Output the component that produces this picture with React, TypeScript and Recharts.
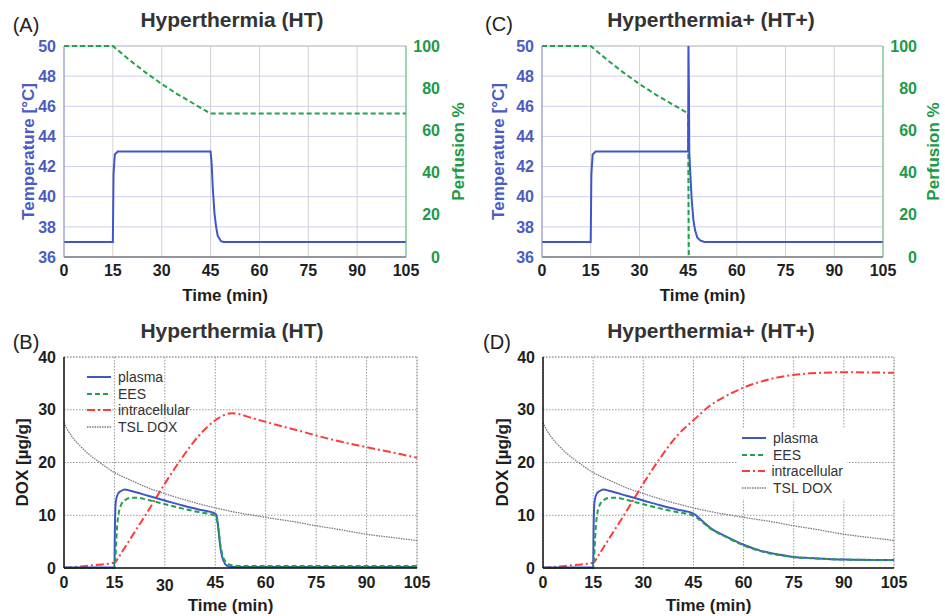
import React from "react";
import {
  LineChart,
  Line,
  XAxis,
  YAxis,
  CartesianGrid,
  ReferenceLine,
  Legend,
} from "recharts";

// ticks
const timeTicks = [0, 15, 30, 45, 60, 75, 90, 105];
const tempTicks = [36, 38, 40, 42, 44, 46, 48, 50];
const perfusionTicks = [0, 20, 40, 60, 80, 100];
const doxTicks = [0, 10, 20, 30, 40];

// (A) hyperthermia: temperature and perfusion
const tempTimeHT = [0, 15, 15.2, 15.6, 16.5, 45, 45.3, 45.7, 46.2, 46.7, 47.2, 48.2, 49, 105];
const tempHT = [37, 37, 41.5, 42.8, 43, 43, 42.3, 40.5, 38.9, 38, 37.4, 37.05, 37, 37];
const perfTimeHT = [0, 15, 20, 25, 30, 35, 40, 45, 105];
const perfHT = [100, 100, 93.5, 87.5, 82, 77, 72.5, 68, 68];

// (C) hyperthermia+: temperature and perfusion
const tempTimeHTp = [0, 15, 15.2, 15.6, 16.5, 45, 45.1, 45.25, 45.35, 45.6, 46.1, 46.6, 47.1, 47.8, 48.7, 50, 105];
const tempHTp = [37, 37, 41.5, 42.8, 43, 43, 50, 47, 43, 41.8, 39.8, 38.5, 37.8, 37.3, 37.1, 37, 37];
const perfTimeHTp = [0, 15, 20, 25, 30, 35, 40, 45, 45.2];
const perfHTp = [100, 100, 93.5, 87.5, 82, 77, 72.5, 68, 0];

// (B) hyperthermia: DOX concentrations
const plasmaTimeHT = [0, 15, 15.15, 15.4, 16, 17, 18, 20, 25, 30, 35, 40, 45, 45.5, 46, 46.5, 47, 48, 49, 50, 105];
const plasmaHT = [0.1, 0.1, 8, 12.5, 14, 14.6, 14.9, 14.6, 13.7, 12.8, 11.9, 11.1, 10.3, 9.5, 7, 4, 2.2, 0.7, 0.3, 0.2, 0.2];
const eesTimeHT = [0, 15, 15.3, 15.7, 16.3, 17, 18, 20, 22, 25, 30, 35, 40, 45, 45.5, 46, 46.5, 47, 48, 50, 52, 105];
const eesHT = [0, 0, 2, 7, 10.5, 12, 12.8, 13.3, 13.3, 12.9, 12.1, 11.3, 10.6, 9.9, 9, 7, 4.5, 2.8, 1.2, 0.5, 0.4, 0.4];
const intraTimeHT = [0, 5, 10, 15, 17, 20, 25, 30, 35, 40, 45, 48, 50, 52, 55, 60, 70, 80, 90, 100, 105];
const intraHT = [0, 0.3, 0.6, 1, 2.8, 5.8, 10.8, 16, 20.8, 25, 28, 29.1, 29.35, 29.2, 28.6, 27.7, 26, 24.3, 22.9, 21.6, 20.9];
const tslTime = [0, 1, 2.5, 5, 7.5, 10, 15, 20, 25, 30, 40, 45, 50, 60, 70, 75, 80, 90, 100, 105];
const tslDox = [27.6, 26.3, 24.8, 23, 21.5, 20.3, 18.1, 16.6, 15.2, 14.1, 12.2, 11.4, 10.7, 9.6, 8.6, 8, 7.5, 6.4, 5.6, 5.2];

// (D) hyperthermia+: DOX concentrations
const plasmaTimeHTp = [0, 15, 15.15, 15.4, 16, 17, 18, 20, 25, 30, 35, 40, 45, 47.5, 50, 55, 60, 65, 70, 75, 80, 90, 105];
const plasmaHTp = [0.1, 0.1, 8, 12.5, 14, 14.6, 14.9, 14.6, 13.7, 12.8, 11.9, 11.1, 10.3, 9, 7.6, 5.9, 4.4, 3.3, 2.6, 2.1, 1.9, 1.6, 1.5];
const eesTimeHTp = [0, 15, 15.3, 15.7, 16.3, 17, 18, 20, 22, 25, 30, 35, 40, 45, 47.5, 50, 55, 60, 65, 70, 75, 80, 90, 105];
const eesHTp = [0, 0, 2, 7, 10.5, 12, 12.8, 13.3, 13.3, 12.9, 12.1, 11.3, 10.6, 9.9, 8.8, 7.5, 5.8, 4.3, 3.2, 2.5, 2.05, 1.85, 1.6, 1.5];
const intraTimeHTp = [0, 5, 10, 15, 17, 20, 25, 30, 35, 40, 45, 50, 55, 60, 65, 70, 75, 80, 90, 100, 105];
const intraHTp = [0, 0.3, 0.6, 1, 2.8, 5.8, 10.8, 16, 20.8, 25, 28, 30.8, 32.7, 34.2, 35.3, 36.1, 36.6, 36.9, 37.1, 37.05, 37];

const BLUE = "#3f56c8";
const BLUE_TEXT = "#4a5cc2";
const GREEN = "#22a04b";
const GREEN_TEXT = "#1c9a47";
const RED = "#ff3a3a";
const GRAY = "#7a7a7a";
const DARK = "#1e1e1e";
const TICK_SIZE = 16;

const zip = (t: number[], v: number[]) => t.map((time, i) => ({ time, value: v[i] }));

const doxSeries = [
  { name: "plasma", color: BLUE, dash: undefined as string | undefined, width: 2 },
  { name: "EES", color: GREEN, dash: "5 3", width: 2 },
  { name: "intracellular", color: RED, dash: "8 3 2 3", width: 2 },
  { name: "TSL DOX", color: GRAY, dash: "1.5 1", width: 1.3 },
];

const boldTick = (fill: string) => ({ fill, fontSize: TICK_SIZE, fontWeight: "bold" as const });

// right axis labels are right-aligned in the original
const perfusionTick = (p: any) => (
  <text x={p.x + 26} y={p.y} dy={5.5} textAnchor="end" fill={GREEN_TEXT} fontSize={TICK_SIZE} fontWeight="bold">
    {p.payload.value}
  </text>
);

function DoxLegend({ boxed }: { boxed: boolean }) {
  return (
    <div
      style={{
        background: boxed ? "#fff" : "transparent",
        padding: boxed ? "2px 4px 3px 4px" : 0,
        width: boxed ? 102 : "auto",
      }}
    >
      {doxSeries.map((s) => (
        <div key={s.name} style={{ display: "flex", alignItems: "center", height: 16.6 }}>
          <svg width={26} height={10}>
            <line x1={1} x2={25} y1={5} y2={5} stroke={s.color} strokeWidth={s.width} strokeDasharray={s.dash} />
          </svg>
          <span style={{ marginLeft: 6, fontSize: 14, color: "#333", lineHeight: "16px" }}>{s.name}</span>
        </div>
      ))}
    </div>
  );
}

function Caption({ text, cx, cy, size, bold }: { text: string; cx: number; cy: number; size: number; bold?: boolean }) {
  return (
    <div
      style={{
        position: "absolute",
        left: cx - 200,
        top: cy - size * 0.6,
        width: 400,
        textAlign: "center",
        fontSize: size,
        lineHeight: `${size * 1.2}px`,
        fontWeight: bold ? "bold" : "normal",
        color: bold ? "#333" : "#222",
        whiteSpace: "nowrap",
      }}
    >
      {text}
    </div>
  );
}

type TempProps = {
  left: number;
  width: number;
  leftW: number;
  rightW: number;
  temp: { time: number; value: number }[];
  perf: { time: number; value: number }[];
};

function TempPanel({ left, width, leftW, rightW, temp, perf }: TempProps) {
  return (
    <div style={{ position: "absolute", left, top: 0, width, height: 305 }}>
      <LineChart width={width} height={305} margin={{ top: 46, right: 0, bottom: 0, left: 0 }}>
        <CartesianGrid yAxisId="temp" horizontal={false} stroke="#d2d2d2" />
        <CartesianGrid yAxisId="temp" vertical={false} stroke="#cdd0ec" />
        <XAxis
          dataKey="time"
          type="number"
          domain={[0, 105]}
          ticks={timeTicks}
          interval={0}
          height={48}
          tickLine={false}
          axisLine={{ stroke: "#444" }}
          tick={boldTick(DARK)}
          label={{ value: "Time (min)", position: "insideBottom", offset: 4, dx: -10, fill: DARK, fontSize: 17, fontWeight: "bold" }}
        />
        <YAxis
          yAxisId="temp"
          domain={[36, 50]}
          ticks={tempTicks}
          interval={0}
          width={leftW}
          tickLine={false}
          axisLine={{ stroke: "#8c93cc" }}
          tick={boldTick(BLUE_TEXT)}
          label={{
            value: "Temperature [°C]",
            angle: -90,
            position: "insideLeft",
            offset: 28,
            fill: BLUE_TEXT,
            fontSize: 17,
            fontWeight: "bold",
            style: { textAnchor: "middle" },
          }}
        />
        <YAxis
          yAxisId="perf"
          orientation="right"
          domain={[0, 100]}
          ticks={perfusionTicks}
          interval={0}
          width={rightW}
          tickLine={false}
          axisLine={{ stroke: "#5cbf7a" }}
          tick={perfusionTick}
          label={{
            value: "Perfusion %",
            angle: -90,
            position: "insideRight",
            offset: 12,
            fill: GREEN_TEXT,
            fontSize: 17,
            fontWeight: "bold",
            style: { textAnchor: "middle" },
          }}
        />
        <ReferenceLine yAxisId="temp" y={50} stroke="#c4c4c4" />
        <Line
          yAxisId="perf"
          data={perf}
          dataKey="value"
          type="linear"
          stroke={GREEN}
          strokeWidth={2}
          strokeDasharray="5 3"
          dot={false}
          activeDot={false}
          isAnimationActive={false}
        />
        <Line
          yAxisId="temp"
          data={temp}
          dataKey="value"
          type="linear"
          stroke={BLUE}
          strokeWidth={2}
          dot={false}
          activeDot={false}
          isAnimationActive={false}
        />
      </LineChart>
    </div>
  );
}

type DoxProps = {
  left: number;
  width: number;
  leftW: number;
  right: number;
  labelOffset: number;
  plasma: { time: number; value: number }[];
  ees: { time: number; value: number }[];
  intra: { time: number; value: number }[];
  tsl: { time: number; value: number }[];
  legendPos: { left: number; top: number };
  boxed: boolean;
  shiftedTick?: number;
};

function DoxPanel({ left, width, leftW, right, labelOffset, plasma, ees, intra, tsl, legendPos, boxed, shiftedTick }: DoxProps) {
  const renderTick = (p: any) => (
    <text
      x={p.x}
      y={p.y + (p.payload.value === shiftedTick ? 3 : 0)}
      dy={12}
      textAnchor="middle"
      fill={DARK}
      fontSize={TICK_SIZE}
      fontWeight="bold"
    >
      {p.payload.value}
    </text>
  );
  return (
    <div style={{ position: "absolute", left, top: 305, width, height: 311 }}>
      <LineChart width={width} height={311} margin={{ top: 52, right, bottom: 0, left: 0 }}>
        <CartesianGrid stroke="#9a9a9a" strokeDasharray="1.5 1.5" />
        <XAxis
          dataKey="time"
          type="number"
          domain={[0, 105]}
          ticks={timeTicks}
          interval={0}
          height={48}
          tickLine={false}
          axisLine={{ stroke: "#111", strokeWidth: 1.5 }}
          tick={renderTick}
          label={{ value: "Time (min)", position: "insideBottom", offset: 5, dx: -10, fill: DARK, fontSize: 17, fontWeight: "bold" }}
        />
        <YAxis
          domain={[0, 40]}
          ticks={doxTicks}
          interval={0}
          width={leftW}
          tickLine={false}
          axisLine={{ stroke: "#111", strokeWidth: 1.5 }}
          tick={boldTick(DARK)}
          label={{
            value: "DOX [µg/g]",
            angle: -90,
            position: "insideLeft",
            offset: labelOffset,
            fill: DARK,
            fontSize: 17,
            fontWeight: "bold",
            style: { textAnchor: "middle" },
          }}
        />
        <ReferenceLine y={40} stroke="#9a9a9a" strokeDasharray="1.5 1.5" />
        <ReferenceLine x={105} stroke="#9a9a9a" strokeDasharray="1.5 1.5" />
        <Line data={tsl} dataKey="value" name="TSL DOX" type="monotoneX" stroke={GRAY} strokeWidth={1.3} strokeDasharray="1.5 1" dot={false} activeDot={false} isAnimationActive={false} />
        <Line data={intra} dataKey="value" name="intracellular" type="monotoneX" stroke={RED} strokeWidth={2} strokeDasharray="8 3 2 3" dot={false} activeDot={false} isAnimationActive={false} />
        <Line data={plasma} dataKey="value" name="plasma" type="monotoneX" stroke={BLUE} strokeWidth={2} dot={false} activeDot={false} isAnimationActive={false} />
        <Line data={ees} dataKey="value" name="EES" type="monotoneX" stroke={GREEN} strokeWidth={2} strokeDasharray="5 3" dot={false} activeDot={false} isAnimationActive={false} />
        <Legend
          layout="vertical"
          align="center"
          verticalAlign="middle"
          content={() => <DoxLegend boxed={boxed} />}
          wrapperStyle={{ position: "absolute", left: legendPos.left, top: legendPos.top, width: "auto", height: "auto" }}
        />
      </LineChart>
    </div>
  );
}

export default function App() {
  return (
    <div
      style={{
        position: "absolute",
        left: 0,
        top: 0,
        width: 945,
        height: 616,
        background: "#fff",
        fontFamily: "'Liberation Sans', Arial, sans-serif",
        overflow: "hidden",
      }}
    >
      <TempPanel left={0} width={470} leftW={64} rightW={64} temp={zip(tempTimeHT, tempHT)} perf={zip(perfTimeHT, perfHT)} />
      <TempPanel left={470} width={475} leftW={72} rightW={62} temp={zip(tempTimeHTp, tempHTp)} perf={zip(perfTimeHTp, perfHTp)} />
      <DoxPanel
        left={0}
        width={470}
        leftW={64}
        right={53}
        labelOffset={22}
        plasma={zip(plasmaTimeHT, plasmaHT)}
        ees={zip(eesTimeHT, eesHT)}
        intra={zip(intraTimeHT, intraHT)}
        tsl={zip(tslTime, tslDox)}
        legendPos={{ left: 86, top: 64 }}
        boxed={false}
        shiftedTick={30}
      />
      <DoxPanel
        left={470}
        width={475}
        leftW={73}
        right={51}
        labelOffset={32}
        plasma={zip(plasmaTimeHTp, plasmaHTp)}
        ees={zip(eesTimeHTp, eesHTp)}
        intra={zip(intraTimeHTp, intraHTp)}
        tsl={zip(tslTime, tslDox)}
        legendPos={{ left: 267, top: 123 }}
        boxed={true}
      />
      <Caption text="Hyperthermia (HT)" cx={232} cy={20} size={21} bold />
      <Caption text="Hyperthermia+ (HT+)" cx={711} cy={20} size={21} bold />
      <Caption text="Hyperthermia (HT)" cx={232} cy={331} size={21} bold />
      <Caption text="Hyperthermia+ (HT+)" cx={711} cy={331} size={21} bold />
      <Caption text="(A)" cx={26} cy={25} size={20} />
      <Caption text="(C)" cx={499} cy={24} size={20} />
      <Caption text="(B)" cx={26} cy={342} size={20} />
      <Caption text="(D)" cx={497} cy={342} size={20} />
    </div>
  );
}
